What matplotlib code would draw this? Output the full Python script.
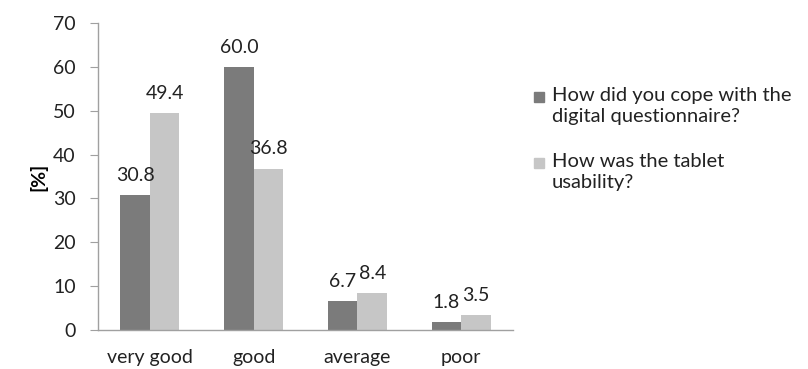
import numpy as np
import matplotlib
matplotlib.use("Agg")
import matplotlib.pyplot as plt
from matplotlib.patches import Rectangle

categories = ["very good", "good", "average", "poor"]
coping = [30.8, 60.0, 6.7, 1.8]
usability = [49.4, 36.8, 8.4, 3.5]
series_names = [
    "How did you cope with the\ndigital questionnaire?",
    "How was the tablet\nusability?",
]

plt.rcParams["font.family"] = ["Lato", "DejaVu Sans"]

fig = plt.figure(figsize=(8.08, 3.69), dpi=100)
ax = fig.add_axes([98 / 808, 1 - 330 / 369, 415 / 808, 307 / 369])

x = np.arange(len(categories))
w = 0.285
dark = "#7b7b7b"
light = "#c6c6c6"
colors = [dark, light]
fs = 14

b1 = ax.bar(x - w / 2, coping, w, color=dark)
b2 = ax.bar(x + w / 2, usability, w, color=light)

for bars in (b1, b2):
    for bar in bars:
        h = bar.get_height()
        ax.annotate(
            f"{h:.1f}",
            (bar.get_x() + bar.get_width() / 2, h),
            xytext=(0, 8),
            textcoords="offset points",
            ha="center",
            va="bottom",
            fontsize=fs,
            color="#222222",
        )

ax.set_xlim(-0.5, len(categories) - 0.5)
ax.set_ylim(0, 70)
ax.set_yticks(range(0, 71, 10))
ax.set_xticks(x)
ax.set_xticklabels(categories)

ax.tick_params(axis="x", length=0, pad=14, labelsize=fs, colors="#222222")
ax.tick_params(axis="y", length=6, width=0.8, color="#a0a0a0", labelsize=fs,
               labelcolor="#222222", pad=10)

for side in ("top", "right"):
    ax.spines[side].set_visible(False)
for side in ("left", "bottom"):
    ax.spines[side].set_color("#a0a0a0")
    ax.spines[side].set_linewidth(1.0)

ax.set_ylabel("[%]", fontsize=fs, fontweight="bold", labelpad=4)

# legend drawn by hand so the square sits on the first text line
W, H = 808, 369
for i, (name, c) in enumerate(zip(series_names, colors)):
    y_line = 97 + i * 66
    fig.patches.append(
        Rectangle((534 / W, 1 - (y_line + 5) / H), 10 / W, 10 / H,
                  transform=fig.transFigure, color=c)
    )
    fig.text(552 / W, 1 - (y_line - 10) / H, name, fontsize=14.5,
             va="top", ha="left", linespacing=1.3, color="#222222")

fig.savefig("out.png", dpi=100)
